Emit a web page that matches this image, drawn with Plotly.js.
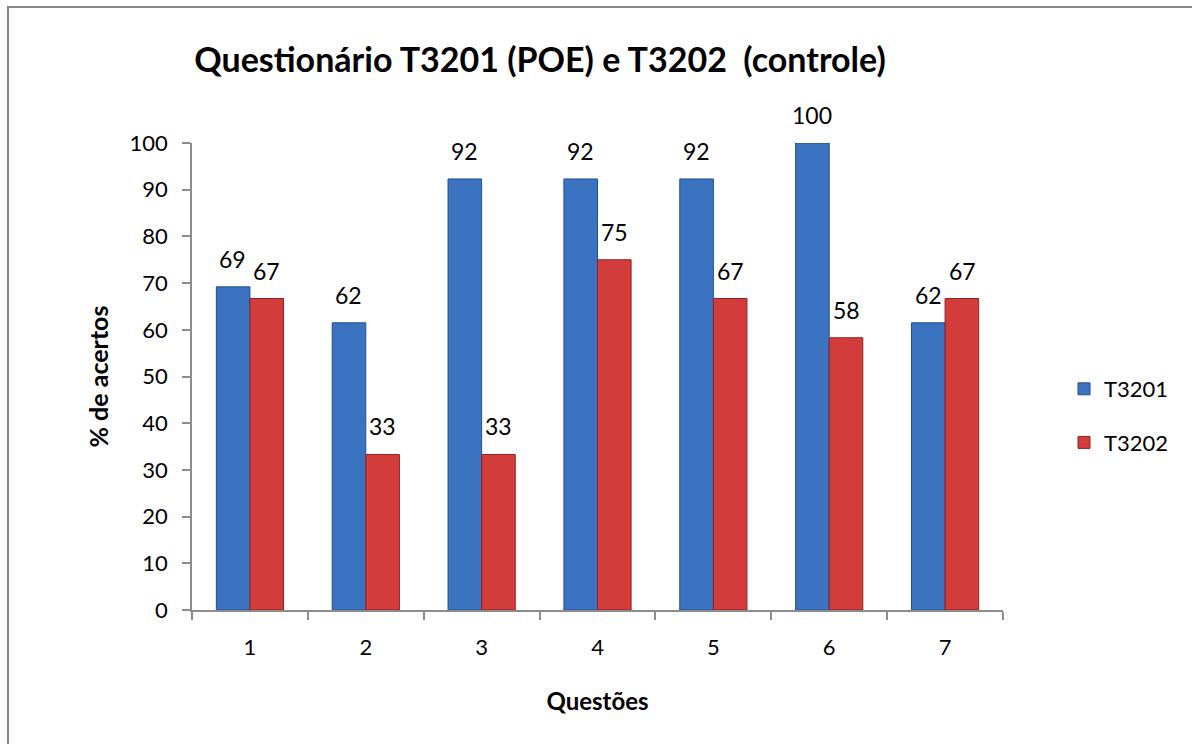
<!DOCTYPE html>
<html>
<head>
<meta charset="utf-8">
<script src="https://cdn.plot.ly/plotly-3.0.1.min.js"></script>
<style>html,body{margin:0;padding:0;background:#fff;}#chart{width:1192px;height:744px;}</style>
</head>
<body>
<div id="chart"></div>
<script>
const categories = ["1", "2", "3", "4", "5", "6", "7"];
const seriesNames = ["T3201", "T3202"];
const valuesT3201 = [69.2, 61.5, 92.3, 92.3, 92.3, 100, 61.5];
const valuesT3202 = [66.7, 33.3, 33.3, 75.0, 66.7, 58.3, 66.7];
const yTicks = [0, 10, 20, 30, 40, 50, 60, 70, 80, 90, 100];

const FONT = "Lato, 'Open Sans', sans-serif";

const L = 192, R = 1003, T = 143, B = 610, W = 1192, H = 744;
const pw = R - L, ph = B - T;

const traces = [
  {
    type: "bar", name: seriesNames[0], x: categories, y: valuesT3201,
    legendgroup: "a",
    marker: {color: "#3b73c1", line: {color: "#23508f", width: 1}},
    hoverinfo: "x+y"
  },
  {
    type: "bar", name: seriesNames[1], x: categories, y: valuesT3202,
    legendgroup: "b",
    marker: {color: "#d23c3a", line: {color: "#8f2321", width: 1}},
    hoverinfo: "x+y"
  }
];

const annotations = [];
categories.forEach((c, i) => {
  annotations.push({x: i, y: valuesT3201[i], xref: "x", yref: "y", text: Math.round(valuesT3201[i]).toString(),
    showarrow: false, xshift: -17, yshift: 12, yanchor: "bottom", font: {family: FONT, size: 23, color: "#000"}});
  annotations.push({x: i, y: valuesT3202[i], xref: "x", yref: "y", text: Math.round(valuesT3202[i]).toString(),
    showarrow: false, xshift: 17, yshift: 12, yanchor: "bottom", font: {family: FONT, size: 23, color: "#000"}});
});

const layout = {
  width: W, height: H,
  margin: {l: L, r: W - R, t: T, b: H - B, pad: 0},
  paper_bgcolor: "#fff", plot_bgcolor: "#fff",
  showlegend: true,
  title: {text: "Questionário T3201 (POE) e T3202  (controle)", font: {family: FONT, size: 34, color: "#000", weight: "bold"},
    x: 540 / W, xanchor: "center", xref: "container", y: 1 - 60 / H, yanchor: "middle", yref: "container"},
  barmode: "group", bargap: 0.42, bargroupgap: 0,
  xaxis: {
    type: "category", showgrid: false, zeroline: false,
    showline: true, linecolor: "#8c8c8c", linewidth: 1.5,
    ticks: "outside", ticklen: 8, tickcolor: "#8c8c8c", tickwidth: 1.5, tickson: "boundaries",
    tickfont: {family: FONT, size: 22, color: "#000"}, ticklabelstandoff: 17,
    title: {text: "Questões", font: {family: FONT, size: 24, color: "#000", weight: "bold"}, standoff: 34}
  },
  yaxis: {
    range: [0, 100], tickvals: yTicks, showgrid: false, zeroline: false,
    showline: true, linecolor: "#8c8c8c", linewidth: 1.5,
    ticks: "outside", ticklen: 8, tickcolor: "#8c8c8c", tickwidth: 1.5,
    tickfont: {family: FONT, size: 22, color: "#000"}, ticklabelstandoff: 10,
    title: {text: "% de acertos", font: {family: FONT, size: 25, color: "#000", weight: "bold"}, standoff: 14}
  },
  legend: {
    x: 1064 / W, xref: "container", y: 1 - 368 / H, yref: "container", yanchor: "top", xanchor: "left",
    font: {family: FONT, size: 22, color: "#000"}, tracegroupgap: 22, itemwidth: 30,
    bgcolor: "rgba(0,0,0,0)"
  },
  annotations: annotations,
  shapes: [{
    type: "rect", xref: "paper", yref: "paper",
    x0: (8 - L) / pw, x1: (1200 - L) / pw,
    y0: (B - 760) / ph, y1: (B - 7) / ph,
    line: {color: "#888", width: 2}, fillcolor: "rgba(0,0,0,0)", layer: "below"
  }]
};

Plotly.newPlot("chart", traces, layout, {displayModeBar: false, responsive: false});
</script>
</body>
</html>
